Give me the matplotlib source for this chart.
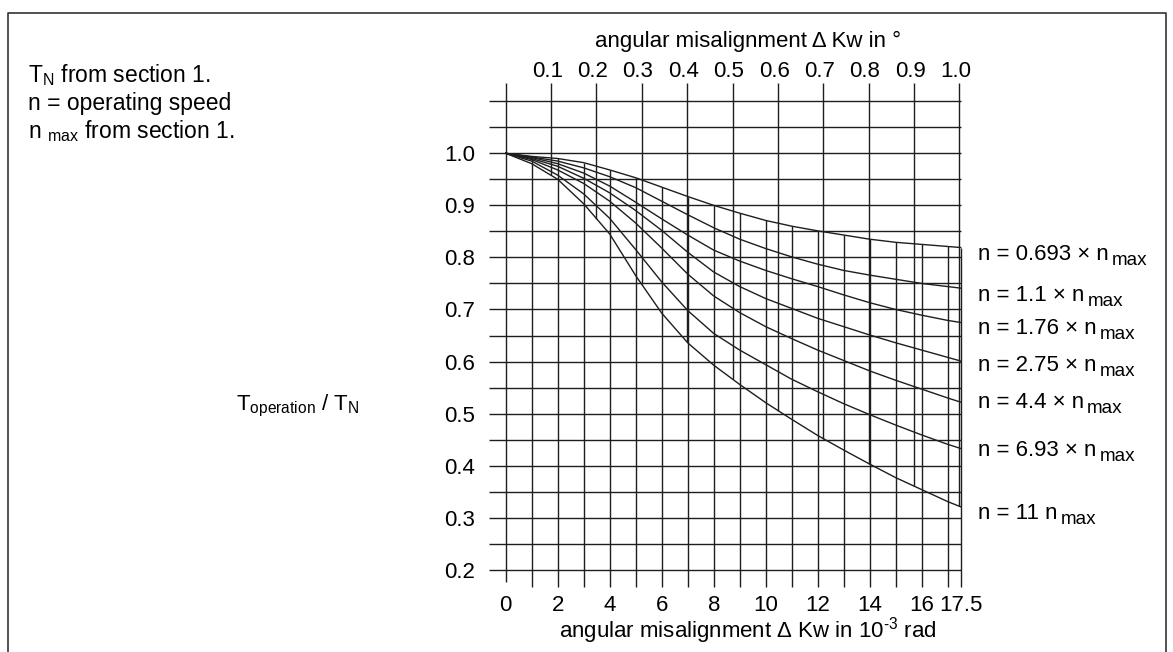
import numpy as np
import matplotlib.pyplot as plt
from matplotlib.lines import Line2D

plt.rcParams['font.family'] = ['Liberation Sans', 'DejaVu Sans']
plt.rcParams['mathtext.fontset'] = 'custom'
plt.rcParams['mathtext.rm'] = 'Liberation Sans'
plt.rcParams['mathtext.it'] = 'Liberation Sans:italic'
plt.rcParams['mathtext.sf'] = 'Liberation Sans'

# angular misalignment in 10^-3 rad
x_mrad = [0, 1, 2, 3, 4, 5, 6, 7, 8, 9, 10, 11, 12, 13, 14, 15, 16, 17, 17.5]

# T_operation / T_N for each speed ratio n / n_max
t_0693 = [1.0, 0.994, 0.990, 0.982, 0.968, 0.953, 0.935, 0.917, 0.900, 0.885,
          0.871, 0.860, 0.851, 0.843, 0.835, 0.829, 0.825, 0.821, 0.819]
t_110 = [1.0, 0.993, 0.985, 0.972, 0.955, 0.934, 0.908, 0.882, 0.857, 0.835,
         0.817, 0.801, 0.787, 0.775, 0.766, 0.758, 0.750, 0.744, 0.741]
t_176 = [1.0, 0.992, 0.980, 0.962, 0.937, 0.906, 0.874, 0.843, 0.814, 0.793,
         0.775, 0.759, 0.744, 0.728, 0.713, 0.700, 0.689, 0.679, 0.675]
t_275 = [1.0, 0.990, 0.975, 0.952, 0.924, 0.890, 0.852, 0.810, 0.772, 0.744,
         0.721, 0.702, 0.683, 0.667, 0.651, 0.636, 0.622, 0.608, 0.601]
t_440 = [1.0, 0.988, 0.968, 0.942, 0.908, 0.866, 0.818, 0.768, 0.726, 0.694,
         0.667, 0.644, 0.622, 0.602, 0.582, 0.564, 0.547, 0.530, 0.522]
t_693 = [1.0, 0.985, 0.958, 0.922, 0.875, 0.815, 0.753, 0.698, 0.654, 0.622,
         0.594, 0.566, 0.542, 0.519, 0.498, 0.478, 0.459, 0.441, 0.433]
t_11 = [1.0, 0.980, 0.950, 0.903, 0.845, 0.765, 0.693, 0.636, 0.593, 0.556,
        0.521, 0.489, 0.458, 0.430, 0.403, 0.377, 0.354, 0.331, 0.321]
curves = [t_0693, t_110, t_176, t_275, t_440, t_693, t_11]

curve_labels = ["n = 0.693 \u00d7 n", "n = 1.1 \u00d7 n", "n = 1.76 \u00d7 n",
                "n = 2.75 \u00d7 n", "n = 4.4 \u00d7 n", "n = 6.93 \u00d7 n",
                "n = 11 n"]
label_y = [0.795, 0.717, 0.652, 0.581, 0.510, 0.418, 0.297]

y_ticks = [0.2, 0.3, 0.4, 0.5, 0.6, 0.7, 0.8, 0.9, 1.0]
x_ticks = [0, 2, 4, 6, 8, 10, 12, 14, 16, 17.5]
x_ticklabels = ['0', '2', '4', '6', '8', '10', '12', '14', '16', '17.5']
deg_ticks = [0.1, 0.2, 0.3, 0.4, 0.5, 0.6, 0.7, 0.8, 0.9, 1.0]

W, H = 1173, 652
fig = plt.figure(figsize=(W / 100, H / 100), dpi=100)
ax = fig.add_axes([487.5 / W, 1 - 590.1 / H, (960.7 - 487.5) / W, (590.1 - 80.4) / H])
ax.set_xlim(-0.7, 17.5)
ax.set_ylim(0.161, 1.14)
for s in ax.spines.values():
    s.set_visible(False)

col = '#1e1e1e'
lw = 1.0
FS = 16

# horizontal grid
hy = np.linspace(0.2, 1.1, 19)
ax.hlines(hy, -0.63, 17.5, color=col, lw=lw, clip_on=False)

top_curve = np.array(t_0693)
low_curve = np.array(t_11)

# mrad lines: from the top curve down past the bottom line
mrad_lines = [float(v) for v in range(1, 18)] + [17.5]
ax.vlines(mrad_lines, 0.167, np.interp(mrad_lines, x_mrad, top_curve),
          color=col, lw=lw, clip_on=False)
ax.vlines(0, 0.177, 1.135, color=col, lw=lw, clip_on=False)

# degree lines: from the top tick down to the lowest curve
deg_x = np.array(deg_ticks) * np.pi / 180 * 1000
ax.vlines(deg_x, np.interp(deg_x, x_mrad, low_curve), 1.135,
          color=col, lw=lw, clip_on=False)

for vals in curves:
    ax.plot(x_mrad, vals, color=col, lw=lw, clip_on=False)

for lab, yy in zip(curve_labels, label_y):
    t = ax.text(18.15, yy, lab, fontsize=FS, va='baseline', ha='left')
    ax.annotate("max", xy=(1, 0), xycoords=t, xytext=(2.5, 0),
                textcoords='offset points', fontsize=FS * 0.85,
                va='baseline', ha='left')

ax.set_yticks(y_ticks, [f"{v:.1f}" for v in y_ticks])
ax.set_xticks(x_ticks, x_ticklabels)
ax.tick_params(axis='both', length=0, labelsize=FS)
ax.tick_params(axis='y', pad=9)
ax.tick_params(axis='x', pad=3.5)

for d, xd in zip(deg_ticks, deg_x):
    ax.text(xd - 0.15, 1.1466, f"{d:.1f}", fontsize=FS, ha='center', va='baseline')

fig.text(748 / W, 1 - 41 / H, "angular misalignment \u0394 Kw in \u00b0",
         fontsize=FS, ha='center', va='center')
fig.text(748 / W, 1 - 638 / H, r"angular misalignment $\Delta$ Kw in 10$^{\text{-3}}$ rad",
         fontsize=FS, ha='center', va='baseline')

fig.text(298 / W, 1 - 410 / H, r"T$_{\rm operation}$ / T$_{\rm N}$",
         fontsize=FS, ha='center', va='baseline')

fig.text(28 / W, 1 - 81.7 / H, r"T$_{\rm N}$ from section 1.", fontsize=16.5, va='baseline')
fig.text(28 / W, 1 - 110 / H, "n = operating speed", fontsize=16.5, va='baseline')
fig.text(28 / W, 1 - 138 / H, r"n $_{\rm max}$ from section 1.", fontsize=16.5, va='baseline')

# frame around the figure
fig.add_artist(Line2D([7.5 / W, 7.5 / W, 1165.5 / W, 1165.5 / W],
                      [0, 1 - 13 / H, 1 - 13 / H, 0], color='#333333', lw=1.2))

fig.savefig('out.png', dpi=100)
